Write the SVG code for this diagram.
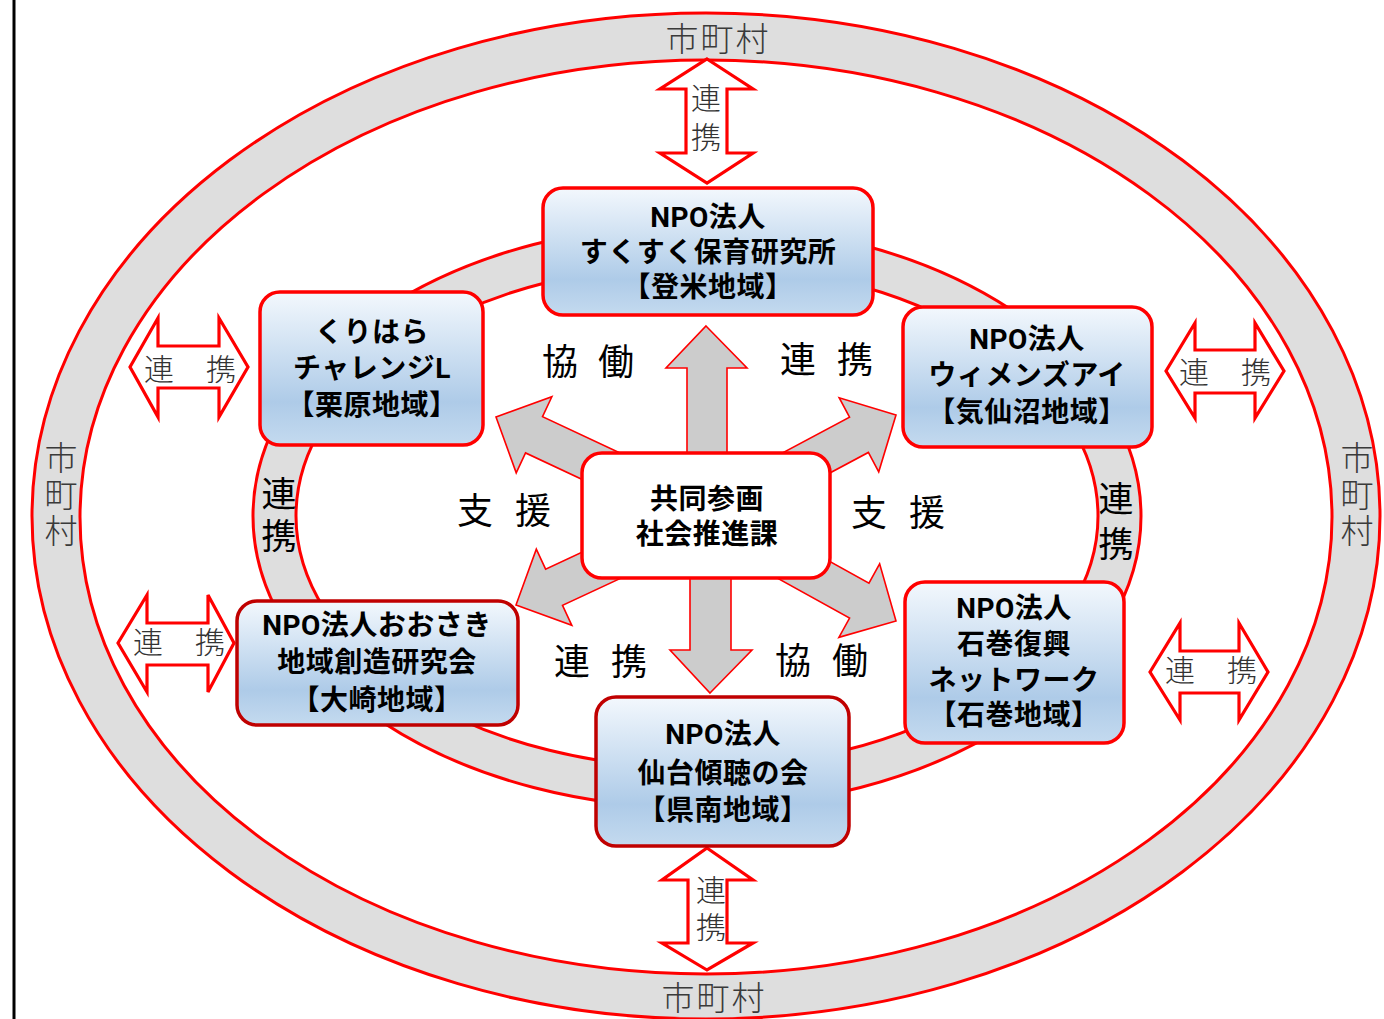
<svg xmlns="http://www.w3.org/2000/svg" width="1384" height="1019" viewBox="0 0 1384 1019">
<defs>
<linearGradient id="boxGrad" x1="0" y1="0" x2="0" y2="1">
<stop offset="0" stop-color="#f3f8fd"/>
<stop offset="0.72" stop-color="#aecbe8"/>
<stop offset="1" stop-color="#c4daef"/>
</linearGradient>
<style>
.ringOuter{fill:#dedede;stroke:#ff0000;stroke-width:3}
.ringInner{fill:#ffffff;stroke:#ff0000;stroke-width:3}
.garrow{fill:#cccccc;stroke:#ff0000;stroke-width:1.6;stroke-linejoin:miter}
.darrow{fill:#ffffff;stroke:#ff0000;stroke-width:3.2;stroke-linejoin:miter}
.box{fill:url(#boxGrad);stroke:#ff0000;stroke-width:3.5}
.boxDark{fill:url(#boxGrad);stroke:#c00000;stroke-width:3.5}
.center{fill:#ffffff;stroke:#ff0000;stroke-width:3.5}
.bt{font-family:Roboto,"Noto Sans CJK JP","Noto Sans CJK SC",sans-serif;font-size:28px;font-weight:700;fill:#000;text-anchor:middle;letter-spacing:0.5px}
.lab{font-family:"Noto Sans CJK JP","Noto Sans CJK SC",sans-serif;font-size:36px;font-weight:400;fill:#000;text-anchor:middle}
.sm{font-family:"Noto Sans CJK JP","Noto Sans CJK SC",sans-serif;font-size:30px;font-weight:300;fill:#333;text-anchor:middle}
.muni{font-family:"Noto Sans CJK JP","Noto Sans CJK SC",sans-serif;font-size:33px;font-weight:300;fill:#3a3a3a;text-anchor:middle}
.vert{writing-mode:vertical-rl;text-anchor:start}
</style>
</defs>
<rect x="0" y="0" width="1384" height="1019" fill="#ffffff"/>
<line x1="14" y1="0" x2="14" y2="1019" stroke="#000" stroke-width="3"/>

<g id="municipality-ring">
<ellipse class="ringOuter" cx="706" cy="516" rx="674" ry="503"/>
<ellipse class="ringInner" cx="706" cy="517" rx="626" ry="457"/>
<text class="muni" x="682 717 752" y="51">市町村</text>
<text class="muni" x="678 713 748" y="1010">市町村</text>
<text class="muni vert" x="61" y="441" style="letter-spacing:3.5px">市町村</text>
<text class="muni vert" x="1357" y="441" style="letter-spacing:3.5px">市町村</text>
</g>

<g id="npo-ring">
<ellipse class="ringOuter" cx="697" cy="516" rx="444" ry="292"/>
<ellipse class="ringInner" cx="697" cy="516" rx="401" ry="252"/>
<text class="lab vert" x="279" y="476" style="font-size:35px;letter-spacing:7px">連携</text>
<text class="lab vert" x="1116" y="481" style="font-size:35px;letter-spacing:10px">連携</text>
</g>

<g id="connectors">
<!-- double arrows between municipalities and NPOs -->
<polygon class="darrow" points="707,59 753,89 727,89 727,153 753,153 707,183 660,153 686,153 686,89 660,89"/>
<polygon class="darrow" points="707,848 753,880 727,880 727,943 753,943 707,970 662,943 688,943 688,880 662,880"/>
<polygon class="darrow" points="130,367 158,318 158,346 219,346 219,318 248,367 219,417 219,388 158,388 158,417"/>
<polygon class="darrow" points="118,643 147,595 147,623 208,623 208,595 234,643 208,692 208,665 147,665 147,692"/>
<polygon class="darrow" points="1166,371 1195,323 1195,350 1255,350 1255,323 1284,371 1255,418 1255,393 1195,393 1195,418"/>
<polygon class="darrow" points="1150,672 1180,623 1180,651 1239,651 1239,623 1268,672 1239,720 1239,693 1180,693 1180,720"/>
<text class="sm vert" x="706" y="83" style="letter-spacing:9px">連携</text>
<text class="sm vert" x="711" y="875" style="letter-spacing:6.5px">連携</text>
<text class="sm" x="159 190 221" y="380">連 携</text>
<text class="sm" x="148 179 210" y="653">連 携</text>
<text class="sm" x="1194 1225 1256" y="383">連 携</text>
<text class="sm" x="1180 1211 1242" y="681">連 携</text>

<!-- gray arrows from the center -->
<polygon class="garrow" points="706,326 747,368 727,368 727,462 687,462 687,368 666,368"/>
<polygon class="garrow" points="710,693 752,650 731,650 731,570 690,570 690,650 670,650"/>
<polygon class="garrow" transform="translate(496,417) rotate(205.1)" points="0,0 -42,-42 -42,-20 -200,-20 -200,20 -42,20 -42,42"/>
<polygon class="garrow" transform="translate(896,415) rotate(-28.1)" points="0,0 -42,-42 -42,-20 -200,-20 -200,20 -42,20 -42,42"/>
<polygon class="garrow" transform="translate(516,605) rotate(155)" points="0,0 -42,-42 -42,-20 -200,-20 -200,20 -42,20 -42,42"/>
<polygon class="garrow" transform="translate(896,621) rotate(29)" points="0,0 -42,-42 -42,-20 -200,-20 -200,20 -42,20 -42,42"/>
<text class="lab" x="560 588 616" y="375">協 働</text>
<text class="lab" x="798 826 855" y="373">連 携</text>
<text class="lab" x="475 504 533" y="524">支 援</text>
<text class="lab" x="869 898 927" y="526">支 援</text>
<text class="lab" x="572 600 629" y="675">連 携</text>
<text class="lab" x="793 821 850" y="674">協 働</text>
</g>

<g id="center-node">
<rect class="center" x="582" y="453" width="248" height="125" rx="20" ry="20"/>
<text class="bt" x="707" y="509">共同参画</text>
<text class="bt" x="707" y="544">社会推進課</text>
</g>

<g id="node-sukusuku">
<rect class="box" x="543" y="188" width="330" height="127" rx="20" ry="20"/>
<text class="bt" x="708" y="227">NPO法人</text>
<text class="bt" x="708" y="262">すくすく保育研究所</text>
<text class="bt" x="708" y="297">【登米地域】</text>
</g>

<g id="node-kurihara">
<rect class="box" x="260" y="292" width="223" height="153" rx="20" ry="20"/>
<text class="bt" x="372" y="342">くりはら</text>
<text class="bt" x="372" y="378">チャレンジL</text>
<text class="bt" x="372" y="415">【栗原地域】</text>
</g>

<g id="node-womens-eye">
<rect class="box" x="903" y="307" width="249" height="140" rx="20" ry="20"/>
<text class="bt" x="1027" y="349">NPO法人</text>
<text class="bt" x="1027" y="385">ウィメンズアイ</text>
<text class="bt" x="1027" y="422">【気仙沼地域】</text>
</g>

<g id="node-osaki">
<rect class="boxDark" x="237" y="601" width="281" height="124" rx="20" ry="20"/>
<text class="bt" x="377" y="635">NPO法人おおさき</text>
<text class="bt" x="377" y="672">地域創造研究会</text>
<text class="bt" x="377" y="710">【大崎地域】</text>
</g>

<g id="node-ishinomaki">
<rect class="box" x="905" y="582" width="219" height="161" rx="20" ry="20"/>
<text class="bt" x="1014" y="618">NPO法人</text>
<text class="bt" x="1014" y="654">石巻復興</text>
<text class="bt" x="1014" y="690">ネットワーク</text>
<text class="bt" x="1014" y="725">【石巻地域】</text>
</g>

<g id="node-sendai">
<rect class="boxDark" x="596" y="697" width="253" height="149" rx="20" ry="20"/>
<text class="bt" x="723" y="744">NPO法人</text>
<text class="bt" x="723" y="783">仙台傾聴の会</text>
<text class="bt" x="723" y="820">【県南地域】</text>
</g>
</svg>
